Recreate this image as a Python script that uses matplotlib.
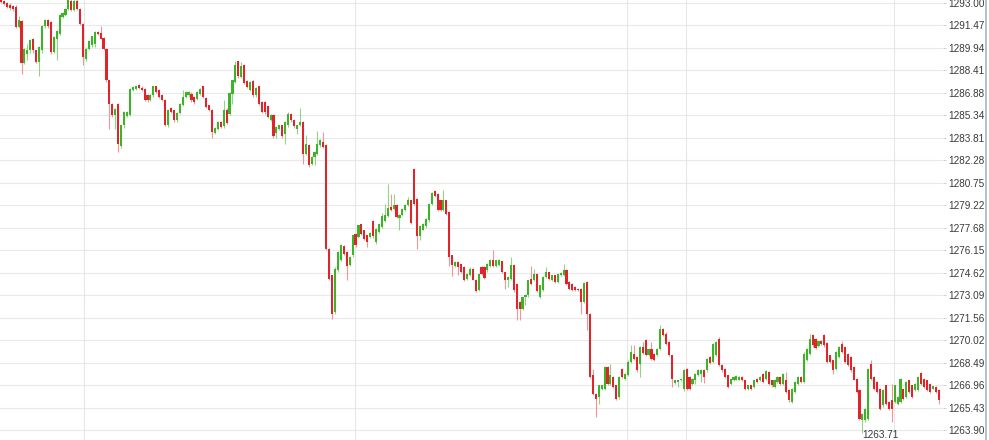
import matplotlib
matplotlib.use("Agg")
import matplotlib.pyplot as plt
from matplotlib.lines import Line2D
import numpy as np

opens = [
    1293.20, 1293.10, 1292.95, 1292.85, 1292.75, 1292.69, 1291.33, 1291.73, 1288.88, 1289.51,
    1289.74, 1290.53, 1289.74, 1288.95, 1289.74, 1291.37, 1291.83, 1291.67, 1289.63, 1290.53,
    1290.87, 1292.01, 1292.12, 1292.57, 1293.10, 1292.50, 1293.10, 1292.57, 1291.55, 1289.17,
    1289.85, 1290.08, 1290.19, 1290.99, 1290.95, 1290.60, 1289.85, 1287.70, 1286.11, 1285.32,
    1286.11, 1283.21, 1284.64, 1285.25, 1285.32, 1287.06, 1287.13, 1287.36, 1287.20, 1287.13,
    1286.68, 1286.34, 1286.68, 1287.29, 1287.06, 1286.68, 1286.38, 1284.64, 1285.84, 1285.66,
    1284.98, 1285.48, 1286.00, 1286.57, 1286.68, 1286.79, 1286.57, 1286.45, 1286.79, 1287.29,
    1286.50, 1286.00, 1285.71, 1284.12, 1284.41, 1284.87, 1284.57, 1285.71, 1285.43, 1286.79,
    1287.59, 1288.99, 1287.93, 1288.72, 1287.65, 1287.07, 1287.65, 1286.68, 1287.29, 1286.23,
    1286.23, 1285.93, 1285.02, 1285.32, 1284.12, 1284.41, 1284.64, 1284.07, 1284.64, 1285.43,
    1284.98, 1284.41, 1284.64, 1284.87, 1282.71, 1283.28, 1282.03, 1282.49, 1282.71, 1283.28,
    1283.51, 1283.28, 1276.25, 1274.44, 1271.94, 1274.78, 1275.46, 1276.41, 1276.02, 1275.12,
    1275.80, 1277.27, 1277.05, 1277.91, 1277.50, 1277.16, 1277.05, 1278.11, 1276.71, 1277.39,
    1277.73, 1278.13, 1278.45, 1279.09, 1278.97, 1279.20, 1278.36, 1278.52, 1278.86, 1279.20,
    1279.54, 1281.69, 1279.65, 1277.09, 1277.54, 1277.77, 1278.18, 1279.31, 1280.15, 1279.99,
    1279.54, 1278.86, 1279.54, 1278.75, 1275.80, 1275.05, 1275.35, 1275.19, 1275.01, 1274.21,
    1274.44, 1274.89, 1274.14, 1273.42, 1275.01, 1275.01, 1274.78, 1275.05, 1275.46, 1275.05,
    1275.12, 1275.41, 1274.67, 1274.10, 1274.21, 1275.12, 1273.87, 1272.63, 1272.17, 1272.97,
    1273.08, 1274.21, 1274.10, 1274.55, 1272.97, 1273.42, 1274.33, 1274.67, 1274.10, 1274.44,
    1273.99, 1274.44, 1274.44, 1274.78, 1273.99, 1273.87, 1273.65, 1273.53, 1273.53, 1272.63,
    1273.99, 1271.83, 1267.64, 1266.39, 1266.17, 1266.73, 1266.73, 1268.21, 1267.07, 1267.53,
    1266.96, 1266.17, 1268.09, 1267.41, 1267.64, 1268.55, 1269.11, 1268.89, 1268.43, 1269.57,
    1270.02, 1269.00, 1269.45, 1269.11, 1269.00, 1269.45, 1270.81, 1270.47, 1269.91, 1269.00,
    1267.12, 1267.19, 1267.30, 1266.73, 1268.09, 1267.53, 1267.07, 1267.30, 1267.64, 1267.75,
    1267.98, 1267.98, 1268.89, 1268.55, 1269.00, 1270.13, 1268.32, 1268.09, 1267.64, 1267.07,
    1267.30, 1267.34, 1267.34, 1267.53, 1267.30, 1266.73, 1266.96, 1266.85, 1267.41, 1267.30,
    1267.75, 1267.41, 1267.87, 1267.30, 1266.85, 1267.19, 1267.53, 1267.07, 1267.35, 1266.62,
    1265.83, 1266.51, 1267.07, 1267.53, 1267.19, 1268.66, 1269.11, 1270.36, 1270.13, 1269.61,
    1269.97, 1270.36, 1269.84, 1269.00, 1268.66, 1268.09, 1268.89, 1269.79, 1269.57, 1269.11,
    1268.89, 1268.21, 1267.41, 1266.62, 1264.58, 1264.58, 1264.69, 1268.43, 1267.53, 1267.19,
    1266.73, 1265.60, 1266.96, 1265.83, 1265.94, 1265.83, 1265.71, 1265.83, 1266.73, 1266.17,
    1267.30, 1266.96, 1266.62, 1266.62, 1267.80, 1267.41, 1267.30, 1267.07, 1266.73, 1266.85,
    1266.62,
]

highs = [
    1293.30, 1293.20, 1293.05, 1292.95, 1292.85, 1292.80, 1292.05, 1291.80, 1289.90, 1290.19,
    1290.55, 1290.60, 1289.80, 1290.05, 1291.45, 1291.90, 1291.90, 1291.75, 1290.70, 1291.10,
    1292.20, 1292.35, 1292.65, 1293.30, 1293.30, 1293.30, 1293.30, 1292.65, 1291.60, 1289.95,
    1290.45, 1290.75, 1291.05, 1291.05, 1291.37, 1290.65, 1289.90, 1287.75, 1286.20, 1285.85,
    1286.20, 1284.70, 1285.60, 1285.60, 1287.20, 1287.35, 1287.40, 1287.45, 1287.30, 1287.20,
    1286.75, 1286.80, 1287.35, 1287.35, 1287.10, 1286.75, 1286.45, 1285.75, 1285.90, 1285.70,
    1285.55, 1286.15, 1287.06, 1287.00, 1287.00, 1286.90, 1286.65, 1287.00, 1287.20, 1287.35,
    1286.55, 1286.05, 1285.75, 1284.55, 1284.95, 1284.95, 1286.39, 1285.80, 1286.90, 1287.75,
    1288.99, 1289.05, 1288.95, 1288.80, 1287.70, 1287.65, 1287.70, 1287.25, 1287.35, 1286.30,
    1286.30, 1286.00, 1285.40, 1285.40, 1284.60, 1284.70, 1284.70, 1284.95, 1285.55, 1285.50,
    1285.05, 1284.70, 1285.84, 1284.95, 1283.96, 1283.35, 1282.55, 1282.90, 1284.25, 1283.70,
    1284.19, 1283.35, 1276.30, 1274.50, 1275.00, 1276.10, 1276.60, 1276.50, 1276.10, 1275.75,
    1277.20, 1277.35, 1277.90, 1277.95, 1277.55, 1277.20, 1277.40, 1278.20, 1277.70, 1278.00,
    1278.68, 1279.31, 1280.63, 1279.99, 1279.99, 1279.30, 1278.60, 1279.05, 1279.30, 1279.77,
    1279.60, 1281.76, 1279.70, 1277.85, 1278.00, 1278.35, 1279.35, 1280.10, 1280.27, 1280.05,
    1279.60, 1280.22, 1279.60, 1278.80, 1275.85, 1275.40, 1275.40, 1275.25, 1275.05, 1274.60,
    1275.01, 1274.95, 1274.20, 1274.60, 1275.05, 1275.05, 1275.30, 1275.57, 1276.14, 1275.50,
    1275.55, 1275.45, 1274.70, 1274.40, 1275.69, 1275.20, 1273.95, 1272.70, 1273.00, 1273.15,
    1274.15, 1275.05, 1274.89, 1274.60, 1273.80, 1274.40, 1275.01, 1274.70, 1274.50, 1274.50,
    1274.60, 1274.65, 1275.23, 1274.85, 1274.05, 1273.95, 1273.70, 1273.60, 1273.60, 1274.00,
    1274.05, 1271.90, 1268.09, 1266.45, 1267.00, 1267.00, 1268.30, 1268.30, 1268.43, 1267.60,
    1267.00, 1267.60, 1268.15, 1267.80, 1268.70, 1269.68, 1269.68, 1268.95, 1269.65, 1269.91,
    1270.10, 1269.50, 1269.91, 1269.15, 1269.50, 1271.04, 1270.90, 1270.59, 1269.95, 1269.05,
    1267.35, 1267.35, 1267.40, 1268.05, 1268.15, 1267.60, 1267.45, 1267.80, 1268.05, 1268.05,
    1268.05, 1268.85, 1268.95, 1269.85, 1270.00, 1270.25, 1268.40, 1268.15, 1267.70, 1267.45,
    1267.60, 1267.65, 1267.60, 1267.60, 1267.35, 1267.00, 1267.00, 1267.35, 1267.45, 1267.60,
    1267.80, 1268.00, 1267.95, 1267.35, 1267.40, 1267.60, 1267.60, 1267.80, 1267.87, 1266.70,
    1266.80, 1267.25, 1267.60, 1267.60, 1269.23, 1269.50, 1270.43, 1270.43, 1270.20, 1270.05,
    1270.05, 1270.43, 1269.90, 1269.05, 1268.70, 1269.30, 1269.65, 1269.97, 1269.60, 1269.15,
    1268.95, 1268.25, 1267.45, 1266.70, 1265.10, 1265.45, 1268.15, 1268.66, 1267.60, 1267.25,
    1266.80, 1266.70, 1267.00, 1265.90, 1267.07, 1267.00, 1266.25, 1267.45, 1266.80, 1267.25,
    1267.35, 1267.00, 1267.10, 1267.60, 1267.85, 1267.45, 1267.35, 1267.10, 1266.95, 1266.90,
    1266.70,
]

lows = [
    1292.95, 1292.80, 1292.60, 1292.50, 1292.45, 1291.30, 1291.30, 1288.11, 1288.80, 1289.06,
    1289.60, 1289.60, 1288.90, 1287.97, 1289.60, 1291.30, 1291.30, 1289.51, 1289.55, 1289.06,
    1290.80, 1291.95, 1292.05, 1292.50, 1292.45, 1292.40, 1292.50, 1291.45, 1288.72, 1289.00,
    1289.80, 1290.00, 1289.97, 1290.80, 1290.50, 1289.80, 1287.60, 1284.41, 1285.20, 1284.41,
    1282.83, 1283.10, 1284.50, 1285.20, 1285.25, 1287.00, 1287.05, 1287.10, 1286.95, 1286.30,
    1286.25, 1286.30, 1286.60, 1286.85, 1286.50, 1286.30, 1284.60, 1284.55, 1285.50, 1284.90,
    1284.90, 1285.40, 1285.95, 1286.50, 1286.60, 1286.25, 1286.10, 1286.40, 1286.70, 1286.50,
    1285.80, 1285.60, 1283.80, 1284.05, 1284.35, 1284.45, 1284.50, 1284.75, 1285.35, 1286.07,
    1287.50, 1287.90, 1287.85, 1287.45, 1287.20, 1287.00, 1286.60, 1286.60, 1286.05, 1285.50,
    1285.45, 1285.15, 1284.95, 1283.80, 1283.80, 1284.35, 1283.80, 1283.35, 1284.55, 1284.90,
    1284.50, 1284.07, 1284.60, 1282.03, 1282.65, 1281.81, 1281.95, 1281.92, 1282.65, 1283.20,
    1283.10, 1276.20, 1274.10, 1271.49, 1271.85, 1274.70, 1275.40, 1275.85, 1274.10, 1275.05,
    1275.70, 1276.40, 1277.00, 1277.20, 1276.85, 1276.40, 1277.00, 1277.00, 1276.60, 1277.30,
    1277.65, 1278.05, 1278.40, 1278.80, 1278.90, 1278.35, 1277.50, 1278.45, 1278.80, 1279.15,
    1277.95, 1279.20, 1276.25, 1276.82, 1277.50, 1277.70, 1278.10, 1279.25, 1279.75, 1278.80,
    1278.80, 1278.80, 1278.55, 1275.05, 1274.37, 1275.00, 1274.44, 1274.60, 1274.05, 1274.15,
    1274.40, 1274.10, 1273.30, 1273.35, 1274.50, 1274.20, 1274.70, 1275.00, 1275.00, 1275.00,
    1275.05, 1274.60, 1273.53, 1273.65, 1274.15, 1273.31, 1271.42, 1271.42, 1272.10, 1272.40,
    1273.00, 1273.80, 1274.05, 1273.30, 1272.90, 1273.35, 1274.30, 1274.15, 1274.05, 1273.95,
    1273.95, 1274.40, 1274.40, 1273.80, 1273.45, 1273.40, 1273.40, 1273.35, 1271.83, 1272.55,
    1270.70, 1267.45, 1266.30, 1264.81, 1265.71, 1266.65, 1266.65, 1267.00, 1267.00, 1266.80,
    1265.95, 1266.05, 1267.45, 1267.35, 1267.60, 1268.50, 1268.70, 1267.90, 1267.53, 1269.10,
    1268.95, 1268.95, 1268.70, 1268.60, 1268.95, 1269.40, 1270.30, 1269.70, 1268.95, 1266.85,
    1267.05, 1266.85, 1267.25, 1266.60, 1266.65, 1266.65, 1267.00, 1267.07, 1267.60, 1267.19,
    1267.12, 1267.90, 1268.40, 1268.50, 1268.95, 1268.25, 1267.90, 1267.45, 1266.80, 1267.00,
    1267.25, 1267.30, 1267.30, 1267.25, 1266.65, 1266.65, 1266.65, 1266.80, 1267.10, 1267.25,
    1267.10, 1267.35, 1267.00, 1266.85, 1266.80, 1267.10, 1267.00, 1267.00, 1266.45, 1265.83,
    1265.75, 1266.45, 1267.00, 1267.10, 1267.10, 1268.60, 1269.05, 1269.60, 1269.45, 1269.55,
    1269.70, 1269.60, 1268.50, 1268.50, 1267.75, 1268.00, 1268.80, 1269.15, 1268.50, 1268.25,
    1267.90, 1267.30, 1266.45, 1264.60, 1263.71, 1264.50, 1264.60, 1267.35, 1266.65, 1266.45,
    1265.30, 1265.50, 1265.65, 1265.30, 1264.47, 1265.75, 1265.65, 1265.75, 1266.00, 1266.10,
    1266.45, 1266.10, 1266.55, 1266.55, 1267.00, 1266.80, 1266.55, 1266.45, 1266.70, 1266.45,
    1265.67,
]

closes = [
    1293.05, 1292.90, 1292.70, 1292.60, 1292.55, 1291.33, 1291.78, 1288.88, 1289.85, 1289.74,
    1290.47, 1289.74, 1288.95, 1289.97, 1291.37, 1291.83, 1291.37, 1289.63, 1290.65, 1291.05,
    1292.12, 1292.28, 1292.57, 1293.14, 1292.50, 1293.10, 1292.57, 1291.55, 1289.29, 1289.85,
    1290.37, 1290.69, 1290.99, 1290.87, 1290.53, 1289.85, 1287.70, 1286.11, 1285.32, 1285.77,
    1283.39, 1284.64, 1285.55, 1285.55, 1287.13, 1287.25, 1287.29, 1287.20, 1287.02, 1286.34,
    1286.34, 1286.73, 1287.29, 1286.91, 1286.57, 1286.34, 1284.64, 1285.70, 1285.55, 1284.98,
    1285.48, 1286.11, 1286.57, 1286.91, 1286.91, 1286.34, 1286.23, 1286.91, 1287.13, 1286.57,
    1285.89, 1285.71, 1284.19, 1284.48, 1284.87, 1284.53, 1285.66, 1284.80, 1286.84, 1287.70,
    1288.72, 1287.97, 1288.65, 1287.52, 1287.25, 1287.59, 1286.68, 1287.20, 1286.11, 1285.55,
    1285.55, 1285.21, 1285.32, 1283.89, 1284.53, 1284.64, 1283.89, 1284.87, 1285.43, 1284.98,
    1284.57, 1284.64, 1284.87, 1282.67, 1283.39, 1281.92, 1282.49, 1282.83, 1283.39, 1283.62,
    1283.17, 1276.25, 1274.21, 1271.83, 1274.89, 1276.02, 1276.48, 1275.91, 1275.05, 1275.68,
    1277.16, 1276.48, 1277.84, 1277.27, 1276.93, 1276.71, 1277.32, 1277.09, 1277.61, 1277.95,
    1278.45, 1278.52, 1279.04, 1278.86, 1279.20, 1278.41, 1278.52, 1278.97, 1279.20, 1279.54,
    1278.00, 1279.31, 1277.09, 1277.77, 1277.95, 1278.29, 1279.31, 1280.04, 1279.81, 1278.86,
    1278.86, 1279.54, 1278.63, 1275.69, 1275.12, 1275.35, 1275.01, 1274.67, 1274.14, 1274.55,
    1274.89, 1274.14, 1273.37, 1274.55, 1274.55, 1274.28, 1275.23, 1275.46, 1275.05, 1275.46,
    1275.50, 1274.67, 1274.10, 1274.33, 1275.12, 1273.42, 1272.17, 1272.17, 1272.97, 1273.08,
    1274.10, 1273.87, 1274.55, 1273.37, 1273.76, 1274.33, 1274.67, 1274.21, 1274.44, 1273.99,
    1274.55, 1274.60, 1274.78, 1273.87, 1273.53, 1273.47, 1273.47, 1273.42, 1272.63, 1273.92,
    1271.83, 1267.53, 1266.39, 1266.05, 1266.96, 1266.96, 1268.21, 1267.07, 1267.64, 1266.85,
    1266.05, 1267.53, 1267.53, 1267.75, 1268.55, 1269.23, 1268.77, 1267.98, 1269.57, 1269.16,
    1269.00, 1269.45, 1268.77, 1268.66, 1269.45, 1270.81, 1270.36, 1269.79, 1269.00, 1267.41,
    1267.30, 1267.30, 1267.34, 1267.98, 1266.73, 1266.73, 1267.41, 1267.75, 1267.98, 1267.98,
    1267.53, 1268.77, 1268.48, 1269.79, 1269.91, 1268.32, 1267.98, 1267.53, 1266.85, 1267.41,
    1267.53, 1267.57, 1267.53, 1267.30, 1266.73, 1266.96, 1266.73, 1267.30, 1267.19, 1267.53,
    1267.19, 1267.93, 1267.07, 1266.96, 1267.35, 1267.53, 1267.07, 1267.75, 1266.51, 1265.94,
    1266.73, 1267.19, 1267.53, 1267.19, 1269.11, 1269.45, 1270.13, 1269.68, 1269.52, 1269.97,
    1269.75, 1269.68, 1268.55, 1268.55, 1267.98, 1269.23, 1269.57, 1269.23, 1268.55, 1268.32,
    1267.98, 1267.35, 1266.51, 1264.69, 1265.03, 1265.37, 1268.09, 1267.41, 1266.73, 1266.51,
    1265.37, 1266.62, 1265.71, 1265.37, 1265.37, 1266.96, 1266.17, 1267.41, 1266.05, 1267.19,
    1266.51, 1266.17, 1267.07, 1267.53, 1267.07, 1266.85, 1266.62, 1266.51, 1266.90, 1266.51,
    1265.94,
]

tick_labels = ["1293.00", "1291.47", "1289.94", "1288.41", "1286.88", "1285.34",
               "1283.81", "1282.28", "1280.75", "1279.22", "1277.68", "1276.15",
               "1274.62", "1273.09", "1271.56", "1270.02", "1268.49", "1266.96",
               "1265.43", "1263.90"]
low_label = "1263.71"
session_breaks = [28.3, 120.8, 213.7, 233.8, 304.8]

# ---------------------------------------------------------------
W, H = 989, 440
plt.rcParams['font.family'] = ['Liberation Sans', 'DejaVu Sans']
fig = plt.figure(figsize=(W / 100, H / 100), dpi=100)
fig.patch.set_facecolor('white')

right_px = 943
ax = fig.add_axes([0, 0, right_px / W, 1])
ax.set_facecolor('white')

n = min(len(opens), len(highs), len(lows), len(closes))
o = np.array(opens[:n]); h = np.array(highs[:n])
l = np.array(lows[:n]); c = np.array(closes[:n])
x = np.arange(n)

up = c >= o
body_up = '#3cb428'
body_dn = '#e1232a'
wick_up = '#92d483'
wick_dn = '#f1959a'

px_per = 2.93
ax.set_xlim(-1 / px_per, (right_px - 1) / px_per)
y_bottom, y_top = 1263.25, 1293.17
ax.set_ylim(y_bottom, y_top)

tick_vals = [float(t) for t in tick_labels]
ax.set_yticks(tick_vals)
ax.set_yticklabels(tick_labels)
ax.yaxis.tick_right()
ax.tick_params(axis='y', length=2.2, width=0.7, color='#d0d0d0', pad=1.5,
               labelsize=7.2, labelcolor='#3a3a3a')
ax.set_xticks([])
for s in ax.spines.values():
    s.set_visible(False)

for t in tick_vals:
    ax.axhline(t, color='#e9e9e9', lw=0.8, zorder=0)
for b in session_breaks:
    ax.axvline(b, color='#e6e6e6', lw=0.8, zorder=0)

ax.vlines(x, l, h, colors=np.where(up, wick_up, wick_dn), linewidth=0.8, zorder=2)
bottoms = np.minimum(o, c)
heights = np.maximum(np.abs(c - o), 0.07)
ax.bar(x, heights, bottom=bottoms, width=0.72,
       color=np.where(up, body_up, body_dn), linewidth=0, zorder=3)

imin = int(np.argmin(l))
ax.text(imin - 0.1, y_bottom + 0.03, low_label, ha='left', va='bottom',
        fontsize=7.2, color='#3a3a3a', zorder=4, clip_on=False)

fig.add_artist(Line2D([985.5 / W, 985.5 / W], [0, 1], transform=fig.transFigure,
                      color='#aab3c2', lw=1.2))

fig.savefig('out.png', dpi=100, facecolor='white')
